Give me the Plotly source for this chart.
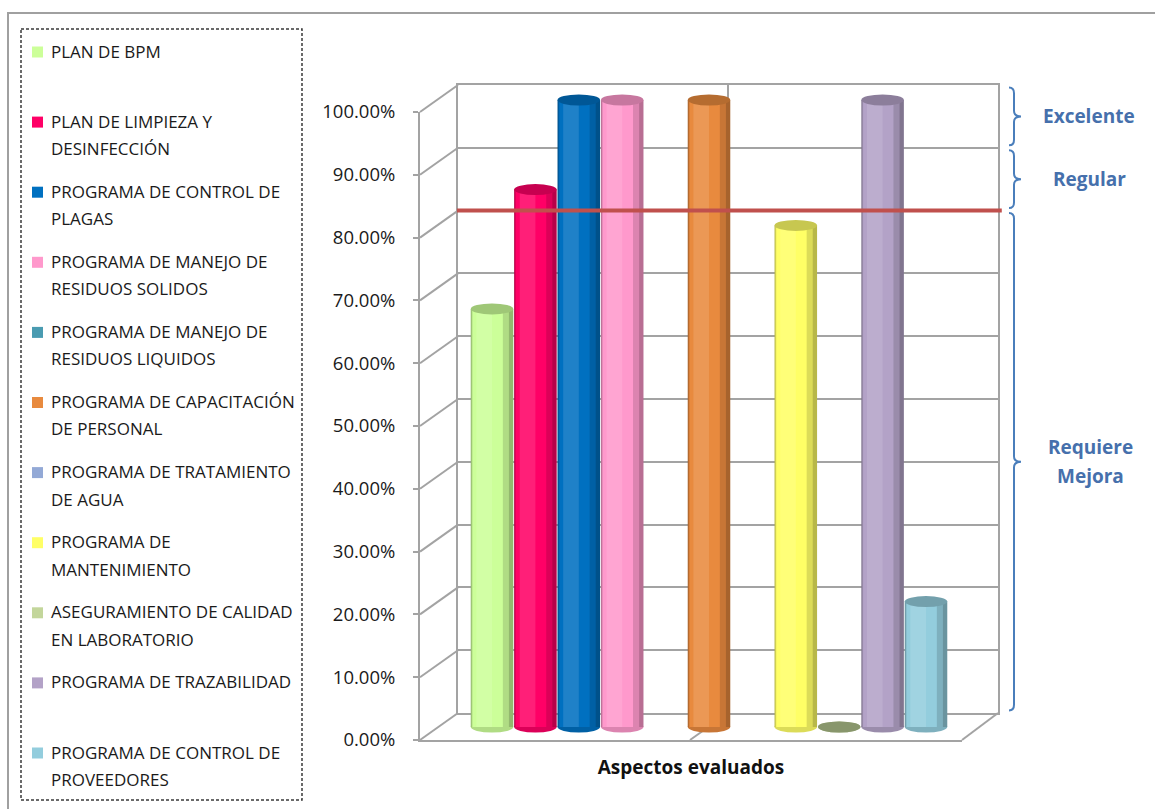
import plotly.graph_objects as go

W, H = 1155, 809

# ---------------- data ----------------
series_names = [
    "PLAN DE BPM",
    "PLAN DE LIMPIEZA Y DESINFECCIÓN",
    "PROGRAMA DE CONTROL DE PLAGAS",
    "PROGRAMA DE MANEJO DE RESIDUOS SOLIDOS",
    "PROGRAMA DE MANEJO DE RESIDUOS LIQUIDOS",
    "PROGRAMA DE CAPACITACIÓN DE PERSONAL",
    "PROGRAMA DE TRATAMIENTO DE AGUA",
    "PROGRAMA DE MANTENIMIENTO",
    "ASEGURAMIENTO DE CALIDAD EN LABORATORIO",
    "PROGRAMA DE TRAZABILIDAD",
    "PROGRAMA DE CONTROL DE PROVEEDORES",
]
legend_lines = [
    ["PLAN DE BPM"],
    ["PLAN DE LIMPIEZA Y", "DESINFECCIÓN"],
    ["PROGRAMA DE CONTROL DE", "PLAGAS"],
    ["PROGRAMA DE MANEJO DE", "RESIDUOS SOLIDOS"],
    ["PROGRAMA DE MANEJO DE", "RESIDUOS LIQUIDOS"],
    ["PROGRAMA DE CAPACITACIÓN", "DE PERSONAL"],
    ["PROGRAMA DE TRATAMIENTO", "DE AGUA"],
    ["PROGRAMA DE", "MANTENIMIENTO"],
    ["ASEGURAMIENTO DE CALIDAD", "EN LABORATORIO"],
    ["PROGRAMA DE TRAZABILIDAD"],
    ["PROGRAMA DE CONTROL DE", "PROVEEDORES"],
]
values = [0.6667, 0.8571, 1.0, 1.0, None, 1.0, None, 0.80, 0.0, 1.0, 0.20]

colors = ["#CCFF99", "#FF0066", "#0070C0", "#FF99CC", "#4A9BB1", "#E88A3E",
          "#93A9D6", "#FFFF66", "#C3D69B", "#B3A2C7", "#93CDDD"]

tick_values = [i / 10 for i in range(11)]
x_title = "Aspectos evaluados"
threshold = 0.80
bands = [("Excelente", 0.9, 1.0), ("Regular", 0.8, 0.9), ("Requiere Mejora", 0.0, 0.8)]

# ---------------- helpers ----------------
def px_x(p):
    return p / W

def px_y(p):
    return 1 - p / H

def hex2rgb(h):
    h = h.lstrip("#")
    return [int(h[i:i + 2], 16) for i in (0, 2, 4)]

def blend(c1, c2, t):
    a, b = hex2rgb(c1), hex2rgb(c2)
    return "#%02X%02X%02X" % tuple(round(a[i] + (b[i] - a[i]) * t) for i in range(3))

def shade(c, t):
    return blend(c, "#000000", t)

# geometry of the pseudo-3D box (pixels)
BW_L, BW_R, BW_Y0, BW_Y1 = 458, 998, 713, 85      # back wall
FR_L, FR_R, FR_Y0, FR_Y1 = 420, 962, 740, 112     # front edge / value axis
B_Y0, B_Y1 = 727, 100                              # bar scale (mid depth)
B_C0, B_P = 492, 43.4                              # first bar centre, pitch
Y_PAD = 0.06
X_PAD = 0.6

def front_y(v):
    return FR_Y0 - v * (FR_Y0 - FR_Y1)

def back_y(v):
    return BW_Y0 - v * (BW_Y0 - BW_Y1)

n = len(values)
fig = go.Figure()

fig.add_trace(go.Scatter(x=[0.5], y=[0.5], mode="markers", marker=dict(opacity=0, size=1),
                         hoverinfo="skip", showlegend=False, xaxis="x", yaxis="y"))
fig.add_trace(go.Scatter(x=[0.5], y=[0.5], mode="markers", marker=dict(opacity=0, size=1),
                         hoverinfo="skip", showlegend=False, xaxis="x2", yaxis="y2"))

shapes = []
for i, (name, v, c) in enumerate(zip(series_names, values, colors)):
    if v is None:
        continue
    dark = shade(c, 0.28)
    mid = blend(c, dark, 0.5)
    light = blend(c, "#FFFFFF", 0.12)
    layers = [(dark, -0.49, 0.98), (mid, -0.47, 0.86), (c, -0.45, 0.70), (light, -0.36, 0.36)]
    for k, (col, off, wd) in enumerate(layers):
        fig.add_trace(go.Bar(x=[i], y=[v], width=[wd], offset=[off], name=name,
                             marker=dict(color=col, line=dict(width=0)),
                             showlegend=False, xaxis="x3", yaxis="y3",
                             hovertemplate=name + ": %{y:.2%}<extra></extra>" if k == 0 else None,
                             hoverinfo=None if k == 0 else "skip"))
    eh = 5.5 / (B_Y0 - B_Y1)
    shapes.append(dict(type="circle", xref="x3", yref="y3", layer="below",
                       x0=i - 0.49, x1=i + 0.49, y0=-eh, y1=eh,
                       fillcolor=mid, line=dict(width=0)))
    top_col = shade(c, 0.22) if v > 0 else shade(c, 0.3)
    shapes.append(dict(type="circle", xref="x3", yref="y3", layer="above",
                       x0=i - 0.49, x1=i + 0.49, y0=v - eh, y1=v + eh,
                       fillcolor=top_col, line=dict(width=0)))

GRID = "#A3A3A3"

for v in tick_values:
    shapes.append(dict(type="line", xref="paper", yref="paper", layer="below",
                       x0=px_x(FR_L), y0=px_y(front_y(v)), x1=px_x(BW_L), y1=px_y(back_y(v)),
                       line=dict(color=GRID, width=2)))
shapes.append(dict(type="line", xref="paper", yref="paper", layer="below",
                   x0=px_x(FR_R), y0=px_y(front_y(0)), x1=px_x(BW_R), y1=px_y(back_y(0)),
                   line=dict(color=GRID, width=2)))
shapes.append(dict(type="line", xref="paper", yref="paper", layer="below",
                   x0=px_x(690), y0=px_y(front_y(0)), x1=px_x(728), y1=px_y(back_y(0)),
                   line=dict(color=GRID, width=2)))
shapes.append(dict(type="line", xref="paper", yref="paper", layer="below",
                   x0=px_x(728), y0=px_y(back_y(0)), x1=px_x(728), y1=px_y(back_y(1)),
                   line=dict(color=GRID, width=2)))

shapes.append(dict(type="line", xref="x domain", yref="y", layer="above",
                   x0=-0.002, x1=1.007, y0=threshold, y1=threshold,
                   line=dict(color="#C0504D", width=4)))

BR = "#4A7EBB"
xl, xv, xt = px_x(1009), px_x(1014), px_x(1021)
annotations = []
for label, a, b in bands:
    g, cc = 0.004, 0.009
    top, bot, midv = b - g, a + g, (a + b) / 2
    path = (f"M {xl},{top} Q {xv},{top} {xv},{top - cc} L {xv},{midv + cc} "
            f"Q {xv},{midv} {xt},{midv} Q {xv},{midv} {xv},{midv - cc} "
            f"L {xv},{bot + cc} Q {xv},{bot} {xl},{bot}")
    shapes.append(dict(type="path", xref="paper", yref="y", path=path, layer="above",
                       line=dict(color=BR, width=2)))
    words = label.split(" ")
    if len(words) == 1:
        annotations.append(dict(x=px_x(1089), y=midv, xref="paper", yref="y", text=label,
                                showarrow=False, xanchor="center", yanchor="middle",
                                font=dict(family="Open Sans", size=19, color="#4670AC", weight="bold")))
    else:
        step = 29 / (BW_Y0 - BW_Y1) / 2
        for j, wd in enumerate(words):
            annotations.append(dict(x=px_x(1090), y=midv + step * (1 - 2 * j), xref="paper", yref="y",
                                    text=wd, showarrow=False, xanchor="center", yanchor="middle",
                                    font=dict(family="Open Sans", size=19, color="#4670AC", weight="bold")))

shapes.append(dict(type="rect", xref="paper", yref="paper", layer="below",
                   x0=px_x(8), y0=px_y(13), x1=1.2, y1=-0.2,
                   line=dict(color="#A0A0A0", width=2)))
shapes.append(dict(type="rect", xref="paper", yref="paper", layer="below",
                   x0=px_x(21), y0=px_y(29), x1=px_x(302), y1=px_y(800),
                   line=dict(color="#3A3A3A", width=1.5, dash="3px,2px")))

for i, (lines, c) in enumerate(zip(legend_lines, colors)):
    yc = 51 + 70.1 * i
    shapes.append(dict(type="rect", xref="paper", yref="paper", layer="above",
                       x0=px_x(32), x1=px_x(43), y0=px_y(yc - 4.5), y1=px_y(yc + 6.5),
                       fillcolor=c, line=dict(width=0)))
    for j, t in enumerate(lines):
        annotations.append(dict(x=px_x(49), y=px_y(yc + 27.5 * j), xref="paper", yref="paper",
                                text=t, showarrow=False, xanchor="left", yanchor="middle",
                                font=dict(family="Open Sans", size=17, color="#1A1A1A")))

fig.update_layout(
    width=W, height=H, autosize=False,
    margin=dict(l=0, r=0, t=0, b=0, pad=0, autoexpand=False),
    paper_bgcolor="white", plot_bgcolor="rgba(0,0,0,0)",
    barmode="overlay",
    showlegend=False,
    font=dict(family="Open Sans", color="#1A1A1A"),
    shapes=shapes,
    annotations=annotations,
    xaxis=dict(domain=[px_x(BW_L), px_x(BW_R)], range=[0, 1], showgrid=False, zeroline=False,
               showticklabels=False, ticks="", showline=True, mirror=True,
               linecolor=GRID, linewidth=2, fixedrange=True, automargin=False),
    yaxis=dict(domain=[px_y(BW_Y0), px_y(BW_Y1)], range=[0, 1], dtick=0.1, tick0=0,
               showgrid=True, gridcolor=GRID, gridwidth=2, zeroline=False,
               showticklabels=False, ticks="", showline=True, mirror=True,
               linecolor=GRID, linewidth=2, anchor="x", fixedrange=True, automargin=False),
    xaxis2=dict(domain=[px_x(FR_L), px_x(FR_R)], range=[0, 1], showgrid=False, zeroline=False,
                showticklabels=False, ticks="", showline=True, linecolor=GRID, linewidth=2,
                anchor="y2", fixedrange=True, automargin=False,
                title=dict(text=x_title, standoff=20,
                           font=dict(family="Open Sans", size=19, color="#111111", weight="bold"))),
    yaxis2=dict(domain=[px_y(FR_Y0), px_y(FR_Y1)], range=[0, 1], tickvals=tick_values,
                tickformat=".2%", showgrid=False, zeroline=False, showline=True,
                linecolor=GRID, linewidth=2, ticks="outside", ticklen=5, tickwidth=2,
                tickcolor=GRID, ticklabelstandoff=14, anchor="x2", fixedrange=True, automargin=False,
                tickfont=dict(family="Open Sans", size=18.5, color="#1A1A1A")),
    xaxis3=dict(domain=[px_x(B_C0 - X_PAD * B_P), px_x(B_C0 + (n - 1 + X_PAD) * B_P)],
                range=[-X_PAD, n - 1 + X_PAD], visible=False, anchor="y3", fixedrange=True),
    yaxis3=dict(domain=[px_y(B_Y0 + Y_PAD * (B_Y0 - B_Y1)), px_y(B_Y1 - Y_PAD * (B_Y0 - B_Y1))],
                range=[-Y_PAD, 1 + Y_PAD], visible=False, anchor="x3", fixedrange=True),
)

fig.write_html("out.html")
